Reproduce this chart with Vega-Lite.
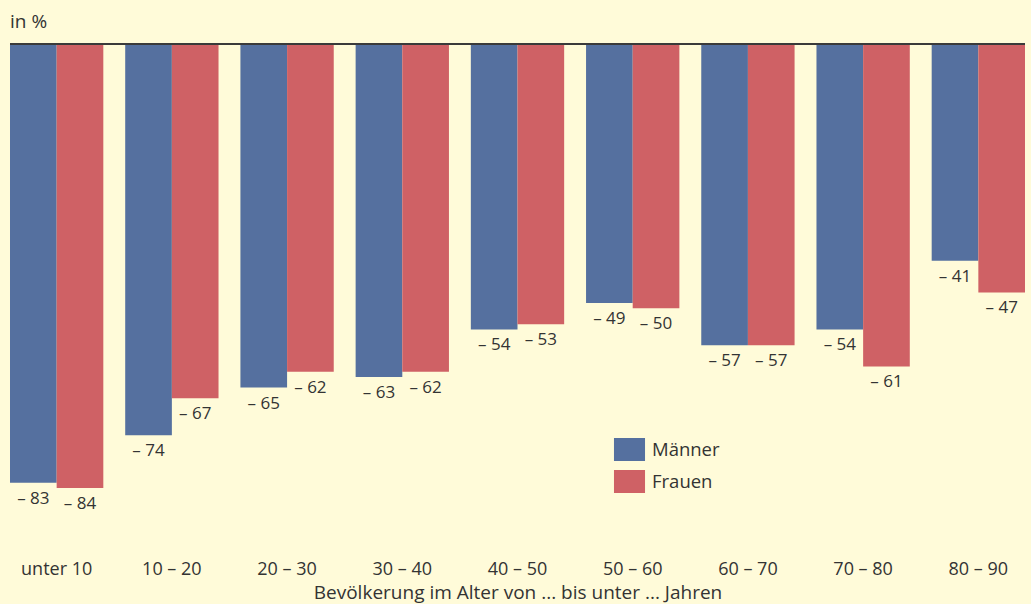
{
  "$schema": "https://vega.github.io/schema/vega-lite/v6.json",
  "width": 1015,
  "height": 518,
  "autosize": {"type": "none"},
  "padding": {"left": 10, "top": 44, "right": 6, "bottom": 42},
  "background": "#fffbd9",
  "config": {
    "view": {"stroke": null},
    "font": "Open Sans",
    "text": {"font": "Open Sans"}
  },
  "title": {
    "text": "in %",
    "anchor": "start",
    "frame": "group",
    "fontSize": 19,
    "fontWeight": "normal",
    "color": "#333333",
    "offset": 11,
    "font": "Open Sans"
  },
  "data": {
    "values": [
      {"age": "unter 10", "sex": "Männer", "value": -83, "label": "– 83"},
      {"age": "unter 10", "sex": "Frauen", "value": -84, "label": "– 84"},
      {"age": "10 – 20", "sex": "Männer", "value": -74, "label": "– 74"},
      {"age": "10 – 20", "sex": "Frauen", "value": -67, "label": "– 67"},
      {"age": "20 – 30", "sex": "Männer", "value": -65, "label": "– 65"},
      {"age": "20 – 30", "sex": "Frauen", "value": -62, "label": "– 62"},
      {"age": "30 – 40", "sex": "Männer", "value": -63, "label": "– 63"},
      {"age": "30 – 40", "sex": "Frauen", "value": -62, "label": "– 62"},
      {"age": "40 – 50", "sex": "Männer", "value": -54, "label": "– 54"},
      {"age": "40 – 50", "sex": "Frauen", "value": -53, "label": "– 53"},
      {"age": "50 – 60", "sex": "Männer", "value": -49, "label": "– 49"},
      {"age": "50 – 60", "sex": "Frauen", "value": -50, "label": "– 50"},
      {"age": "60 – 70", "sex": "Männer", "value": -57, "label": "– 57"},
      {"age": "60 – 70", "sex": "Frauen", "value": -57, "label": "– 57"},
      {"age": "70 – 80", "sex": "Männer", "value": -54, "label": "– 54"},
      {"age": "70 – 80", "sex": "Frauen", "value": -61, "label": "– 61"},
      {"age": "80 – 90", "sex": "Männer", "value": -41, "label": "– 41"},
      {"age": "80 – 90", "sex": "Frauen", "value": -47, "label": "– 47"}
    ]
  },
  "encoding": {
    "x": {
      "field": "age",
      "type": "nominal",
      "sort": null,
      "scale": {"paddingInner": 0.19, "paddingOuter": 0},
      "axis": {
        "title": "Bevölkerung im Alter von ... bis unter ... Jahren",
        "titleFontSize": 19,
        "titleFontWeight": "normal",
        "titleColor": "#333333",
        "titlePadding": 5,
        "labelFontSize": 18,
        "labelColor": "#333333",
        "labelAngle": 0,
        "labelPadding": -2,
        "ticks": false,
        "domain": false,
        "grid": false
      }
    },
    "xOffset": {
      "field": "sex",
      "type": "nominal",
      "sort": ["Männer", "Frauen"],
      "scale": {"paddingInner": 0, "paddingOuter": 0}
    },
    "y": {
      "field": "value",
      "type": "quantitative",
      "scale": {"domain": [-98, 0], "nice": false, "zero": true},
      "axis": null
    }
  },
  "layer": [
    {
      "mark": {"type": "bar"},
      "encoding": {
        "color": {
          "field": "sex",
          "type": "nominal",
          "sort": ["Männer", "Frauen"],
          "scale": {"domain": ["Männer", "Frauen"], "range": ["#55709f", "#cf6165"]},
          "legend": {
            "title": null,
            "orient": "none",
            "legendX": 608,
            "legendY": 394,
            "padding": 0,
            "symbolType": "M-1.35,-1L1.35,-1L1.35,1L-1.35,1Z",
            "symbolSize": 529,
            "symbolStrokeWidth": 0,
            "symbolOpacity": 1,
            "labelFontSize": 18.5,
            "labelColor": "#333333",
            "labelOffset": 11,
            "rowPadding": 9
          }
        }
      }
    },
    {
      "mark": {"type": "text", "baseline": "middle", "align": "center", "dy": 16, "fontSize": 17, "color": "#333333"},
      "encoding": {
        "text": {"field": "label"}
      }
    },
    {
      "mark": {"type": "rule", "color": "#3a3a3a", "strokeWidth": 2},
      "encoding": {
        "y": {"datum": 0},
        "x": null,
        "xOffset": null
      }
    }
  ]
}
